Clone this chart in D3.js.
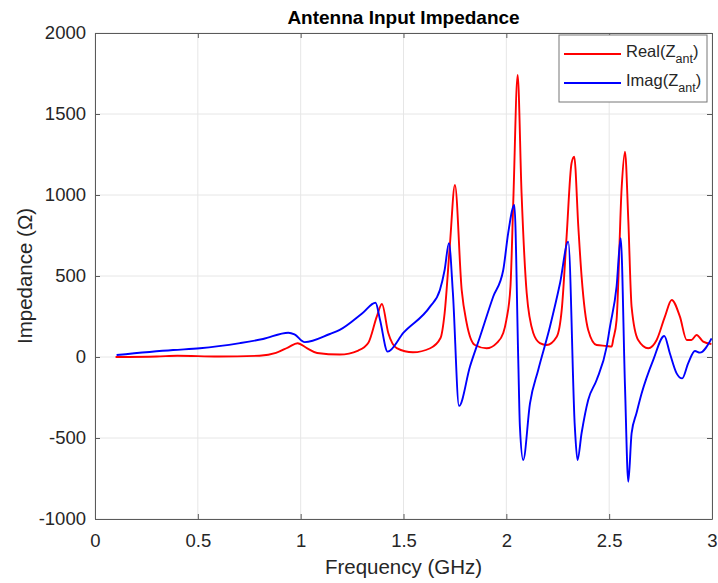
<!DOCTYPE html>
<html>
<head>
<meta charset="utf-8">
<script src="https://cdn.jsdelivr.net/npm/d3@7"></script>
<style>
  body { margin: 0; background: #fff; }
  svg text { font-family: "Liberation Sans", Arial, sans-serif; fill: #262626; }
</style>
</head>
<body>
<svg></svg>
<script>
// Frequency (GHz) / impedance (Ohm)
const realFreq = [0.10, 0.30, 0.40, 0.60, 0.80, 0.88, 0.94, 0.985, 1.03, 1.08, 1.19, 1.28, 1.33, 1.37, 1.395, 1.426, 1.467, 1.546, 1.63, 1.68, 1.70, 1.726, 1.75, 1.783, 1.807, 1.847, 1.904, 1.953, 1.985, 2.00, 2.02, 2.034, 2.055, 2.074, 2.099, 2.131, 2.163, 2.196, 2.245, 2.27, 2.293, 2.317, 2.330, 2.35, 2.366, 2.398, 2.439, 2.488, 2.512, 2.52, 2.536, 2.561, 2.577, 2.593, 2.609, 2.641, 2.69, 2.731, 2.771, 2.804, 2.844, 2.877, 2.90, 2.925, 2.957, 2.997];
const realValues = [0, 3, 8, 3, 8, 25, 60, 85, 55, 25, 15, 40, 90, 249, 327, 148, 55, 29, 54, 117, 271, 700, 1062, 413, 210, 74, 54, 86, 148, 228, 434, 969, 1741, 1012, 395, 148, 86, 74, 125, 300, 743, 1196, 1237, 804, 496, 167, 74, 68, 64, 110, 228, 1051, 1267, 846, 311, 105, 54, 105, 249, 352, 249, 105, 105, 136, 95, 80];

const imagFreq = [0.105, 0.38, 0.51, 0.705, 0.817, 0.94, 0.97, 1.02, 1.142, 1.19, 1.30, 1.364, 1.386, 1.423, 1.50, 1.629, 1.677, 1.70, 1.721, 1.74, 1.770, 1.823, 1.872, 1.936, 1.985, 2.009, 2.039, 2.058, 2.066, 2.082, 2.115, 2.155, 2.212, 2.261, 2.301, 2.333, 2.346, 2.366, 2.398, 2.439, 2.488, 2.504, 2.536, 2.556, 2.577, 2.593, 2.609, 2.633, 2.658, 2.714, 2.768, 2.795, 2.828, 2.855, 2.884, 2.917, 2.941, 2.998];
const imagValues = [12, 43, 54, 86, 111, 150, 140, 92, 142, 167, 270, 335, 228, 33, 150, 311, 413, 537, 702, 400, -302, -60, 125, 372, 537, 765, 938, -19, -430, -636, -286, -80, 187, 455, 712, -430, -636, -469, -265, -142, 64, 187, 434, 733, -183, -770, -471, -346, -224, -19, 130, 23, -101, -132, -39, 37, 27, 115];

const xTicks = [0, 0.5, 1, 1.5, 2, 2.5, 3];
const yTicks = [-1000, -500, 0, 500, 1000, 1500, 2000];

const width = 718, height = 583;
const margin = { top: 33, right: 6, bottom: 64, left: 95 };

const svg = d3.select("svg").attr("width", width).attr("height", height);

const x = d3.scaleLinear().domain([0, 3]).range([margin.left, width - margin.right]);
const y = d3.scaleLinear().domain([-1000, 2000]).range([height - margin.bottom, margin.top]);

// grid
svg.append("g")
   .selectAll("line")
   .data(xTicks)
   .join("line")
   .attr("x1", d => x(d)).attr("x2", d => x(d))
   .attr("y1", y(-1000)).attr("y2", y(2000))
   .attr("stroke", "#e6e6e6");
svg.append("g")
   .selectAll("line")
   .data(yTicks)
   .join("line")
   .attr("x1", x(0)).attr("x2", x(3))
   .attr("y1", d => y(d)).attr("y2", d => y(d))
   .attr("stroke", "#e6e6e6");

// curves
svg.append("clipPath").attr("id", "clip")
   .append("rect")
   .attr("x", x(0)).attr("y", y(2000))
   .attr("width", x(3) - x(0)).attr("height", y(-1000) - y(2000));

const lineGen = d3.line().x(d => x(d[0])).y(d => y(d[1])).curve(d3.curveMonotoneX);

svg.append("path")
   .datum(d3.zip(realFreq, realValues))
   .attr("clip-path", "url(#clip)")
   .attr("fill", "none")
   .attr("stroke", "#ff0000")
   .attr("stroke-width", 1.9)
   .attr("d", lineGen);

svg.append("path")
   .datum(d3.zip(imagFreq, imagValues))
   .attr("clip-path", "url(#clip)")
   .attr("fill", "none")
   .attr("stroke", "#0000ff")
   .attr("stroke-width", 1.9)
   .attr("d", lineGen);

// axes (box with inward ticks)
const axColor = "#5a5a5a";
const fmt = d => String(d);
const xAxis = svg.append("g")
   .attr("transform", `translate(0,${y(-1000)})`)
   .call(d3.axisBottom(x).tickValues(xTicks).tickSizeInner(-5).tickSizeOuter(0).tickPadding(15).tickFormat(fmt));
const xAxisTop = svg.append("g")
   .attr("transform", `translate(0,${y(2000)})`)
   .call(d3.axisTop(x).tickValues(xTicks).tickSizeInner(-5).tickSizeOuter(0).tickFormat(""));
const yAxis = svg.append("g")
   .attr("transform", `translate(${x(0)},0)`)
   .call(d3.axisLeft(y).tickValues(yTicks).tickSizeInner(-5).tickSizeOuter(0).tickPadding(9).tickFormat(fmt));
const yAxisRight = svg.append("g")
   .attr("transform", `translate(${x(3)},0)`)
   .call(d3.axisRight(y).tickValues(yTicks).tickSizeInner(-5).tickSizeOuter(0).tickFormat(""));

[xAxis, xAxisTop, yAxis, yAxisRight].forEach(g => {
  g.select(".domain").attr("stroke", axColor).attr("stroke-width", 1);
  g.selectAll(".tick line").attr("stroke", axColor);
  g.selectAll(".tick text")
   .style("font-family", "Liberation Sans, Arial, sans-serif")
   .style("font-size", "18.5px")
   .attr("fill", "#262626");
});

// labels
svg.append("text")
   .attr("x", (x(0) + x(3)) / 2)
   .attr("y", 24)
   .attr("text-anchor", "middle")
   .style("font-size", "19px")
   .style("font-weight", "bold")
   .style("fill", "#000")
   .text("Antenna Input Impedance");

svg.append("text")
   .attr("x", (x(0) + x(3)) / 2)
   .attr("y", 574)
   .attr("text-anchor", "middle")
   .style("font-size", "20.5px")
   .text("Frequency (GHz)");

svg.append("text")
   .attr("transform", `translate(32,${(y(-1000) + y(2000)) / 2}) rotate(-90)`)
   .attr("text-anchor", "middle")
   .style("font-size", "20.5px")
   .text("Impedance (Ω)");

// legend
const legend = svg.append("g").attr("transform", "translate(559,35)");
legend.append("rect")
   .attr("width", 148).attr("height", 67)
   .attr("fill", "#fff").attr("stroke", "#777").attr("stroke-width", 1);

const entries = [
  { name: "Real", color: "#ff0000" },
  { name: "Imag", color: "#0000ff" }
];
entries.forEach((e, i) => {
  const yy = 19 + i * 29;
  legend.append("line")
     .attr("x1", 5).attr("x2", 62).attr("y1", yy).attr("y2", yy)
     .attr("stroke", e.color).attr("stroke-width", 1.9);
  const t = legend.append("text")
     .attr("x", 67).attr("y", yy + 3)
     .style("font-size", "16.5px");
  t.append("tspan").text(e.name + "(Z");
  t.append("tspan").attr("dy", 6).style("font-size", "12.5px").text("ant");
  t.append("tspan").attr("dy", -6).text(")");
});
</script>
</body>
</html>
